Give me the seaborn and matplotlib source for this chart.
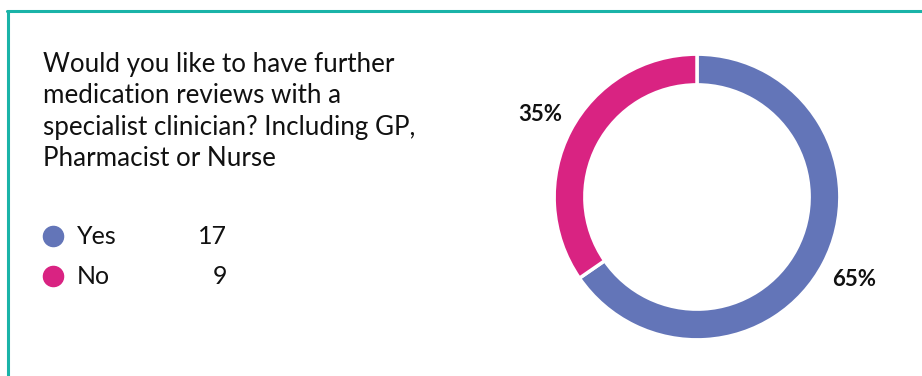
import matplotlib
matplotlib.use("Agg")
import matplotlib.pyplot as plt
import seaborn as sns
from matplotlib.lines import Line2D

sns.set_theme(style="white")
plt.rcParams["font.family"] = ["Lato", "DejaVu Sans"]

# Survey responses
categories = ["Yes", "No"]
counts = [17, 9]
colors = ["#6375b8", "#d92382"]
question_lines = ["Would you like to have further",
                  "medication reviews with a",
                  "specialist clinician? Including GP,",
                  "Pharmacist or Nurse"]

W, H = 922, 376
fig = plt.figure(figsize=(W / 100, H / 100), dpi=100)
fig.patch.set_facecolor("white")

def fx(px):
    return px / W

def fy(py):
    return 1 - py / H

# Teal frame (top and left edges)
teal = "#1ab3a8"
fig.add_artist(Line2D([fx(7), 1.0], [fy(11), fy(11)], color=teal, lw=2.2,
                      transform=fig.transFigure))
fig.add_artist(Line2D([fx(8), fx(8)], [fy(11), 0.0], color=teal, lw=2.2,
                      transform=fig.transFigure))

# Question text, one baseline per line
for i, line in enumerate(question_lines):
    fig.text(fx(43), fy(72 + 31.4 * i), line, ha="left", va="baseline",
             fontsize=18.7, color="#111111")

# Legend with counts
legend_y = [236, 276]
for cat, n, col, y in zip(categories, counts, colors, legend_y):
    fig.add_artist(Line2D([fx(53)], [fy(y)], marker="o", markersize=14.5,
                          color=col, transform=fig.transFigure))
    fig.text(fx(77), fy(y), cat, ha="left", va="center", fontsize=18,
             color="#111111")
    fig.text(fx(227), fy(y), str(n), ha="right", va="center", fontsize=18,
             color="#111111")

# Donut chart
cx, cy, half = 697, 197, 150
ax = fig.add_axes([fx(cx - half), fy(cy + half), 2 * half / W, 2 * half / H])
ax.pie(counts, colors=colors, startangle=90, counterclock=False, radius=1,
       wedgeprops=dict(width=0.215, edgecolor="white", linewidth=2.5),
       autopct=lambda p: f"{p:.0f}%", pctdistance=1.24,
       textprops=dict(fontsize=16, fontweight="bold", color="#111111"))
ax.set_xlim(-1.05, 1.05)
ax.set_ylim(-1.05, 1.05)
ax.set_aspect("equal")
ax.axis("off")

fig.savefig("out.png", dpi=100, facecolor="white")
